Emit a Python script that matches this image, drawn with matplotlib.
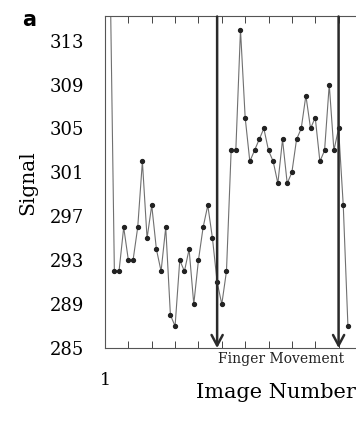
import matplotlib

matplotlib.use("Agg")
import matplotlib.pyplot as plt

# signal per image (images 1-2 run off the top of the panel)
images = list(range(1, 54))
signal = [
    330, 322, 292, 292, 296, 293, 293, 296, 302, 295,
    298, 294, 292, 296, 288, 287, 293, 292, 294, 289,
    293, 296, 298, 295, 291, 289, 292, 303, 303, 314,
    306, 302, 303, 304, 305, 303, 302, 300, 304, 300,
    301, 304, 305, 308, 305, 306, 302, 303, 309, 303,
    305, 298, 287,
]
finger_moves = [25, 51]
y_ticks = [285, 289, 293, 297, 301, 305, 309, 313]
x_ticks = list(range(1, 76, 5))
x_tick_labels = ["1"] + [""] * (len(x_ticks) - 1)

plt.rcParams["font.family"] = ["DejaVu Serif"]

fig = plt.figure(figsize=(3.56, 4.34), dpi=100)
# panel runs past the right edge, as in the cropped scan
ax = fig.add_axes([0.295, 0.198, 0.971, 0.764])

ax.plot(images, signal, color="#707070", lw=0.8, marker="o", ms=2.8,
        mfc="#222222", mec="#222222", zorder=2)

for pos in finger_moves:
    ax.annotate("", xy=(pos, 285), xytext=(pos, 315.2),
                arrowprops=dict(arrowstyle="->, head_length=0.75, head_width=0.4",
                                lw=1.8, color="#2a2a2a", shrinkA=0, shrinkB=0,
                                mutation_scale=10),
                zorder=3)

ax.text(finger_moves[0] + 0.2, 284.6, "Finger Movement", fontsize=10,
        ha="left", va="top", color="#222222")

ax.set_xlim(1, 75)
ax.set_ylim(285, 315.2)
ax.set_xticks(x_ticks)
ax.set_xticklabels(x_tick_labels)
ax.set_yticks(y_ticks)
ax.set_yticklabels([str(v) for v in y_ticks])

ax.tick_params(axis="x", which="both", direction="in", length=5, width=0.7,
               top=True, bottom=True, pad=17, labelsize=12.5, color="#444444")
ax.tick_params(axis="y", length=0, pad=15, labelsize=13)
for spine in ax.spines.values():
    spine.set_linewidth(0.8)
    spine.set_color("#555555")
ax.spines["right"].set_visible(False)

ax.set_ylabel("Signal", fontsize=14.5, labelpad=9)
ax.set_xlabel("Image Number", fontsize=15)
ax.xaxis.set_label_coords(0.495, -0.105)

fig.text(0.083, 0.953, "a", fontsize=15, fontweight="bold", family="DejaVu Sans",
         ha="center", va="center")

fig.savefig("out.png", dpi=100)
